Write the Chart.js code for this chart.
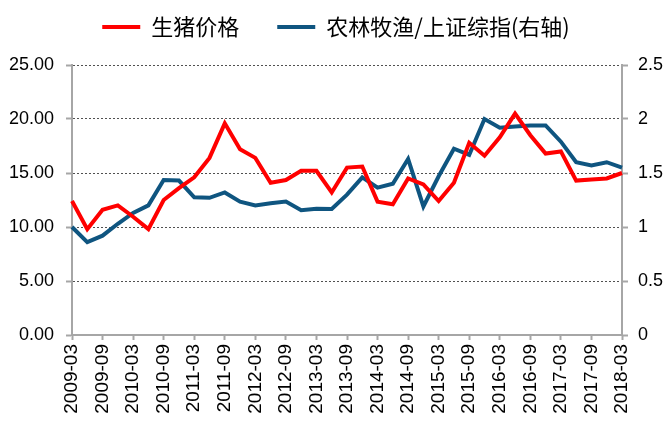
<!DOCTYPE html>
<html>
<head>
<meta charset="utf-8">
<script src="https://cdn.jsdelivr.net/npm/chart.js@4/dist/chart.umd.min.js"></script>
<style>
  html, body { margin: 0; padding: 0; background: #fff; }
  #wrap { width: 672px; height: 426px; position: relative; }
</style>
</head>
<body>
<div id="wrap"><canvas id="chart"></canvas></div>
<script>
// 季度数据 2009-03 .. 2018-03
const quarters = [
  '2009-03', '2009-06', '2009-09', '2009-12', '2010-03', '2010-06', '2010-09', '2010-12',
  '2011-03', '2011-06', '2011-09', '2011-12', '2012-03', '2012-06', '2012-09', '2012-12',
  '2013-03', '2013-06', '2013-09', '2013-12', '2014-03', '2014-06', '2014-09', '2014-12',
  '2015-03', '2015-06', '2015-09', '2015-12', '2016-03', '2016-06', '2016-09', '2016-12',
  '2017-03', '2017-06', '2017-09', '2017-12', '2018-03'
]

// 生猪价格 (左轴)
const hogPrice = [
  12.4, 9.8, 11.6, 12.0, 10.95, 9.8, 12.5, 13.6,
  14.6, 16.4, 19.6, 17.2, 16.4, 14.1, 14.35, 15.2,
  15.2, 13.2, 15.5, 15.6, 12.35, 12.1, 14.5, 13.95,
  12.4, 14.1, 17.8, 16.6, 18.3, 20.5, 18.5, 16.8,
  17.0, 14.3, 14.4, 14.5, 15.0
]

// 农林牧渔/上证综指 (右轴)
const agriRatio = [
  1.0, 0.86, 0.92, 1.03, 1.13, 1.20, 1.435, 1.43,
  1.275, 1.27, 1.32, 1.235, 1.20, 1.22, 1.235, 1.155,
  1.17, 1.167, 1.30, 1.46, 1.364, 1.40, 1.63, 1.19,
  1.47, 1.725, 1.667, 2.0, 1.92, 1.93, 1.94, 1.94,
  1.79, 1.60, 1.57, 1.60, 1.55
]

const leftTicks = [0, 5, 10, 15, 20, 25]
const rightTicks = [0, 0.5, 1, 1.5, 2, 2.5]

const RED = '#FF0000'
const BLUE = '#0F5580'
const AXIS_GREY = '#A6A6A6'
const GRID_GREY = '#505050'
const tickFont = { family: "'Liberation Sans', Helvetica, Arial, sans-serif", size: 18 }

// 图例高度补齐到绘图区顶部
const legendSpacer = {
  id: 'legendSpacer',
  beforeInit(chart) {
    const origFit = chart.legend.fit
    chart.legend.fit = function () {
      origFit.bind(chart.legend)()
      this.height = 65
    }
  }
}

const ctx = document.getElementById('chart').getContext('2d')
const chart = new Chart(ctx, {
  type: 'line',
  data: {
    labels: quarters,
    datasets: [{
      label: '生猪价格',
      data: hogPrice,
      borderColor: RED,
      backgroundColor: RED,
      borderWidth: 4,
      pointRadius: 0,
      tension: 0,
      yAxisID: 'yL'
    }, {
      label: '农林牧渔/上证综指(右轴)',
      data: agriRatio,
      borderColor: BLUE,
      backgroundColor: BLUE,
      borderWidth: 4,
      pointRadius: 0,
      tension: 0,
      yAxisID: 'yR'
    }]
  },
  options: {
    responsive: true,
    maintainAspectRatio: false,
    animation: false,
    layout: { padding: 0 },
    plugins: {
      tooltip: { enabled: false },
      legend: {
        display: true,
        position: 'top',
        labels: {
          color: '#111',
          font: { family: "'Noto Sans CJK SC', sans-serif", size: 22 },
          boxWidth: 38,
          boxHeight: 4,
          padding: 16,
          generateLabels(chart) {
            return chart.data.datasets.map((ds, i) => ({
              text: i === 0 ? ds.label + '\u2002\u2002' : ds.label,
              fillStyle: ds.borderColor,
              strokeStyle: ds.borderColor,
              lineWidth: 0,
              hidden: false,
              datasetIndex: i
            }))
          }
        }
      }
    },
    scales: {
      x: {
        type: 'category',
        offset: false,
        border: { display: true, color: AXIS_GREY, width: 2 },
        grid: {
          display: true,
          drawOnChartArea: false,
          drawTicks: true,
          tickLength: 5,
          tickWidth: 2,
          tickColor: (c) => (c.index % 2 === 0 ? AXIS_GREY : 'rgba(0,0,0,0)')
        },
        ticks: {
          autoSkip: false,
          maxRotation: 90,
          minRotation: 90,
          padding: 4,
          color: '#000',
          font: { family: tickFont.family, size: 19 },
          callback(v, i) { return i % 2 === 0 ? quarters[i] : '' }
        },
        afterFit(scale) { scale.height = 91 }
      },
      yL: {
        position: 'left',
        min: 0,
        max: 25,
        afterBuildTicks(scale) { scale.ticks = leftTicks.map(v => ({ value: v })) },
        border: { display: true, color: AXIS_GREY, width: 2, dash: [2, 2] },
        grid: {
          drawOnChartArea: true,
          color: (c) => (c.tick && c.tick.value === 0 ? 'rgba(0,0,0,0)' : GRID_GREY),
          lineWidth: 1,
          drawTicks: true,
          tickLength: 6,
          tickWidth: 2,
          tickColor: AXIS_GREY,
          tickBorderDash: []
        },
        ticks: {
          color: '#000',
          font: tickFont,
          padding: 12,
          callback(v) { return Number(v).toFixed(2) }
        },
        afterFit(scale) { scale.width = 72 }
      },
      yR: {
        position: 'right',
        min: 0,
        max: 2.5,
        afterBuildTicks(scale) { scale.ticks = rightTicks.map(v => ({ value: v })) },
        border: { display: true, color: AXIS_GREY, width: 2 },
        grid: {
          drawOnChartArea: false,
          drawTicks: true,
          tickLength: 6,
          tickWidth: 2,
          tickColor: AXIS_GREY
        },
        ticks: {
          color: '#000',
          font: tickFont,
          padding: 10,
          callback(v) { return String(v) }
        },
        afterFit(scale) { scale.width = 50 }
      }
    }
  },
  plugins: [legendSpacer]
})
</script>
</body>
</html>
